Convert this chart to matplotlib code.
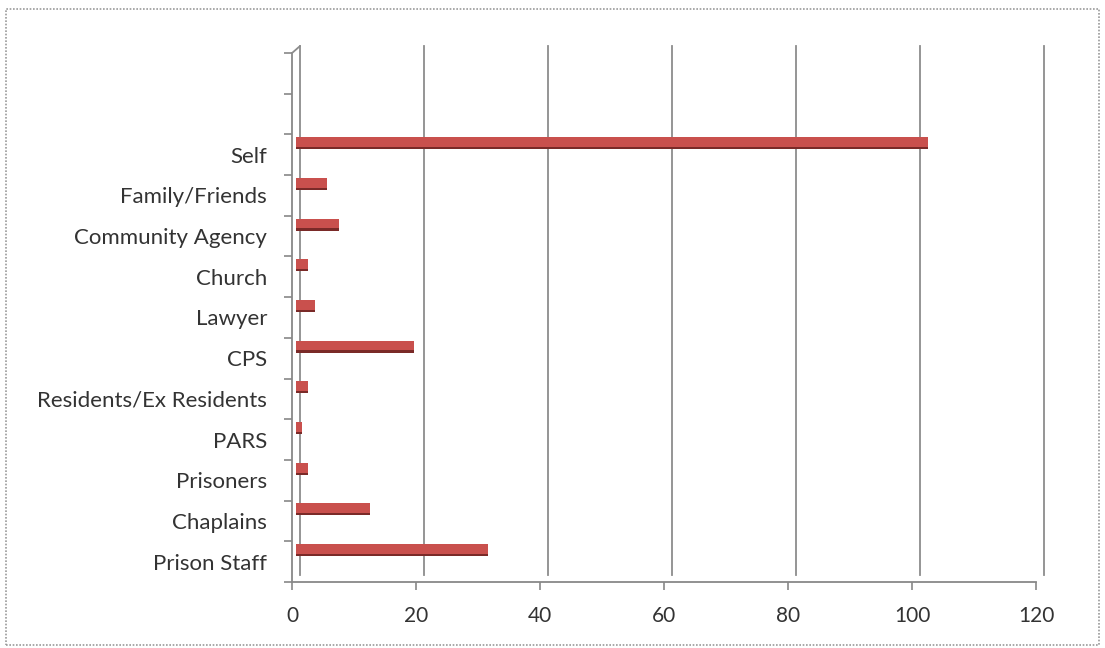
import matplotlib
matplotlib.use("Agg")
import matplotlib.pyplot as plt
import numpy as np
from matplotlib.patches import Rectangle
from matplotlib.transforms import offset_copy

plt.rcParams['font.family'] = ['Lato', 'DejaVu Sans']

categories = ["Prison Staff", "Chaplains", "Prisoners", "PARS", "Residents/Ex Residents",
              "CPS", "Lawyer", "Church", "Community Agency", "Family/Friends", "Self"]
values = [31, 12, 2, 1, 2, 19, 3, 2, 7, 5, 102]
xticks = [0, 20, 40, 60, 80, 100, 120]

fig = plt.figure(figsize=(11.05, 6.48), dpi=100)
ax = fig.add_axes([0.2643, 0.1019, 0.6733, 0.8163])

# outer chart border
fig.patches.append(Rectangle((0.005, 0.005), 0.99, 0.981, transform=fig.transFigure,
                             fill=False, edgecolor='#999999', linewidth=1.2,
                             linestyle=(0, (1, 1))))

# back wall (3d look): shifted copy of the axis lines
back = offset_copy(ax.get_xaxis_transform(), fig=fig, x=8, y=7, units='dots')
for t in xticks:
    ax.plot([t, t], [0, 1], transform=back, color='#8c8c8c', linewidth=1.3,
            zorder=1, clip_on=False)
# little connectors between front and back axis
ax.annotate('', xy=(0, 1), xycoords=back, xytext=(0, 1),
            textcoords=ax.get_xaxis_transform(),
            arrowprops=dict(arrowstyle='-', color='#8c8c8c', lw=1.3, shrinkA=0, shrinkB=0))

y = np.arange(len(categories))
shadow = ax.barh(y + 0.28, values, height=0.29, color='#7a2a28', linewidth=0, zorder=3)
bars = ax.barh(y + 0.31, values, height=0.24, color='#C9504D', linewidth=0, zorder=4)
for p in shadow:
    p.set_transform(offset_copy(ax.transData, fig=fig, x=4, y=0, units='dots'))
for p in bars:
    p.set_transform(offset_copy(ax.transData, fig=fig, x=4, y=0, units='dots'))

ax.set_xlim(0, 120)
ax.set_ylim(-0.5, len(categories) + 1.5)
ax.set_xticks(xticks)
ax.set_xticklabels([str(t) for t in xticks], fontsize=15, color='#333333')
ax.set_yticks(y)
ax.set_yticklabels(categories, fontsize=16, color='#333333')
ax.tick_params(axis='y', which='major', length=0, pad=18)
ax.set_yticks(np.arange(-0.5, len(categories) + 2, 1.0), minor=True)
ax.tick_params(axis='y', which='minor', length=6, color='#888888', width=1.2)
ax.tick_params(axis='x', length=6, color='#888888', width=1.2, pad=11)

for s in ['top', 'right']:
    ax.spines[s].set_visible(False)
for s in ['left', 'bottom']:
    ax.spines[s].set_color('#888888')
    ax.spines[s].set_linewidth(1.3)

fig.savefig("out.png", dpi=100)
